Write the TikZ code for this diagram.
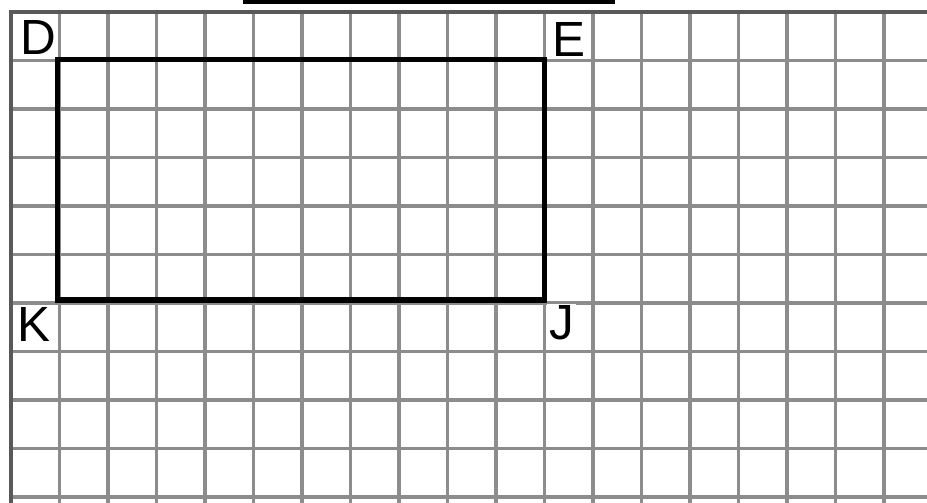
\documentclass[tikz,border=0pt]{standalone}
\usepackage{fontspec}
\setmainfont{Liberation Sans}
\usepackage{tikz}

\begin{document}
\begin{tikzpicture}[
  gridline/.style={draw=black!45, line width=1.8pt},
  edgeline/.style={draw=black!65, line width=2.2pt},
  shape line/.style={draw=black, line width=3.4pt, line join=miter},
  vertex label/.style={fill=white, inner sep=1pt, anchor=base, font=\fontsize{29}{30}\selectfont}
]
\useasboundingbox (-0.227,-10.124) rectangle (18.887,0.247);
\draw [gridline] (0,-10.3) grid (19.2,0);
\draw [edgeline] (0,-10.3) -- (0,0) -- (19.2,0);
\fill [black] (4.78,0.165) rectangle (12.45,0.26);
\coordinate (D) at (0.96,-0.98);
\coordinate (E) at (11,-0.98);
\coordinate (J) at (11,-5.94);
\coordinate (K) at (0.96,-5.94);
\draw [shape line] (D) -- (E) -- (J) -- (K) -- cycle;
\node [vertex label] (lD) at (0.567,-0.887) {D};
\node [vertex label] (lE) at (11.495,-0.928) {E};
\node [vertex label] (lK) at (0.464,-6.80) {K};
\node [vertex label] (lJ) at (11.35,-6.76) {J};
\end{tikzpicture}
\end{document}
